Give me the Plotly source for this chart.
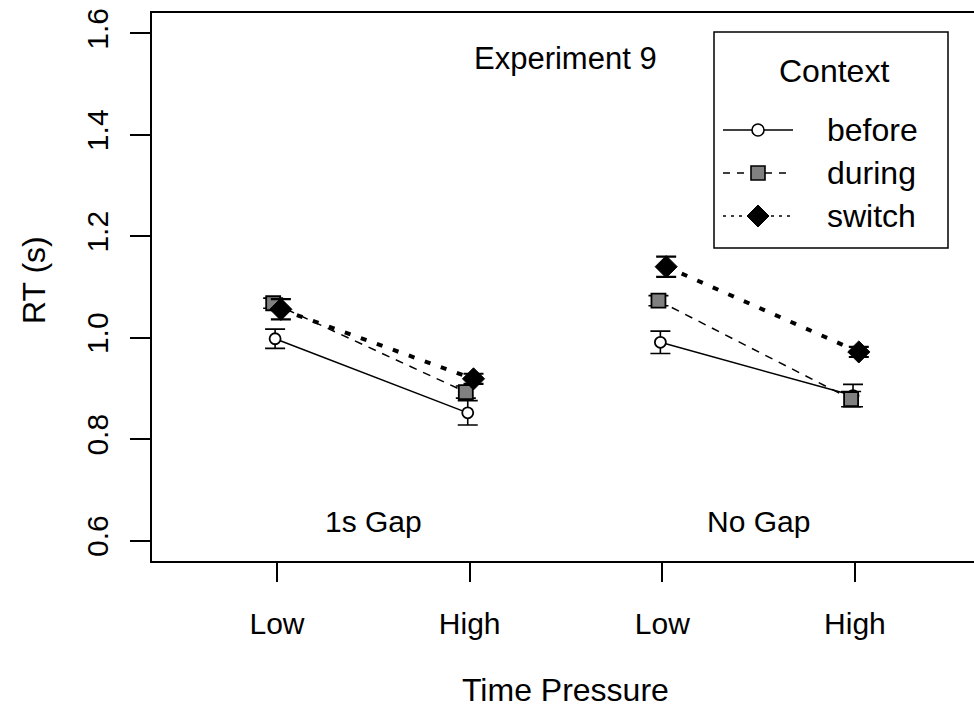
import plotly.graph_objects as go

# ---- data ----
conditions = ["1s Gap", "No Gap"]
pressure_labels = ["Low", "High", "Low", "High"]
x_pos = [1, 2, 3, 4]

before = [0.998, 0.852, 0.991, 0.886]
before_err = [0.019, 0.024, 0.022, 0.022]
during = [1.068, 0.893, 1.073, 0.879]
during_err = [0.010, 0.012, 0.010, 0.015]
switch = [1.056, 0.919, 1.140, 0.972]
switch_err = [0.020, 0.010, 0.020, 0.010]

y_ticks = [0.6, 0.8, 1.0, 1.2, 1.4, 1.6]

# ---- layout geometry ----
W, H = 974, 714
L, R, T, B = 152, 0, 13, 153
PW, PH = W - L - R, H - T - B
FONT = "Liberation Sans, Arial, Helvetica, sans-serif"


def px(xp):
    return (xp - L) / PW


def py(yp):
    return (H - B - yp) / PH


series = [
    dict(name="before", y=before, err=before_err, off=-0.01,
         line=dict(color="black", width=1.5),
         marker=dict(symbol="circle", size=11, color="white",
                     line=dict(color="black", width=1.8)),
         ethick=1.6),
    dict(name="during", y=during, err=during_err, off=-0.02,
         line=dict(color="black", width=1.5, dash="8px,7px"),
         marker=dict(symbol="square", size=14, color="#808080",
                     line=dict(color="black", width=1.8)),
         ethick=1.6),
    dict(name="switch", y=switch, err=switch_err, off=0.02,
         line=dict(color="black", width=4, dash="6px,11px"),
         marker=dict(symbol="diamond", size=17, color="black",
                     line=dict(color="black", width=1)),
         ethick=2.2),
]

fig = go.Figure()
for s in series:
    for g in range(len(conditions)):
        idx = [2 * g, 2 * g + 1]
        fig.add_trace(go.Scatter(
            x=[x_pos[i] + s["off"] for i in idx],
            y=[s["y"][i] for i in idx],
            mode="lines+markers",
            line=s["line"],
            marker=s["marker"],
            error_y=dict(type="data", array=[s["err"][i] for i in idx],
                         visible=True, color="black", thickness=s["ethick"],
                         width=10),
            showlegend=False,
            name=s["name"],
        ))

annotations = [
    dict(x=2.5, y=1.55, xref="x", yref="y", text="Experiment 9",
         showarrow=False, font=dict(family=FONT, size=31, color="black")),
    dict(x=1.5, y=0.637, xref="x", yref="y", text=conditions[0],
         showarrow=False, font=dict(family=FONT, size=30, color="black")),
    dict(x=3.5, y=0.637, xref="x", yref="y", text=conditions[1],
         showarrow=False, font=dict(family=FONT, size=30, color="black")),
    dict(x=px(565), y=py(690), xref="paper", yref="paper", text="Time Pressure",
         showarrow=False, xanchor="center", yanchor="middle",
         font=dict(family=FONT, size=32, color="black")),
    dict(x=px(34), y=py(280), xref="paper", yref="paper", text="RT (s)",
         showarrow=False, textangle=-90, xanchor="center", yanchor="middle",
         font=dict(family=FONT, size=32, color="black")),
]

# manual legend
shapes = [dict(type="rect", xref="paper", yref="paper",
               x0=px(714), x1=px(948), y0=py(248), y1=py(32),
               line=dict(color="black", width=1.5), fillcolor="white", layer="above")]
annotations.append(dict(x=px(834), y=py(71), xref="paper", yref="paper",
                        text="Context", showarrow=False, xanchor="center",
                        yanchor="middle",
                        font=dict(family=FONT, size=32, color="black")))
leg_y = [130, 173, 216]
leg_dash = ["solid", "7px,7px", "3px,5px"]
for k, s in enumerate(series):
    yy = leg_y[k]
    shapes.append(dict(type="line", xref="paper", yref="paper",
                       x0=px(723), x1=px(793), y0=py(yy), y1=py(yy),
                       line=dict(color="black", width=1.5, dash=leg_dash[k]),
                       layer="above"))
    annotations.append(dict(x=px(825), y=py(yy), xref="paper", yref="paper",
                            text=s["name"], showarrow=False, xanchor="left",
                            yanchor="middle",
                            font=dict(family=FONT, size=32, color="black")))
cx = 758
# circle
shapes.append(dict(type="circle", xref="paper", yref="paper",
                   x0=px(cx - 6), x1=px(cx + 6), y0=py(130 + 6), y1=py(130 - 6),
                   line=dict(color="black", width=1.6), fillcolor="white", layer="above"))
# square
shapes.append(dict(type="rect", xref="paper", yref="paper",
                   x0=px(cx - 7), x1=px(cx + 7), y0=py(173 + 7), y1=py(173 - 7),
                   line=dict(color="black", width=1.6), fillcolor="#808080", layer="above"))
# diamond
d = 11
path = "M {} {} L {} {} L {} {} L {} {} Z".format(
    px(cx), py(216 - d), px(cx + d), py(216), px(cx), py(216 + d), px(cx - d), py(216))
shapes.append(dict(type="path", xref="paper", yref="paper", path=path,
                   line=dict(color="black", width=1), fillcolor="black", layer="above"))

fig.update_layout(
    width=W, height=H,
    margin=dict(l=L, r=R, t=T, b=B, pad=0),
    paper_bgcolor="white", plot_bgcolor="white",
    font=dict(family=FONT, size=30, color="black"),
    annotations=annotations,
    shapes=shapes,
    showlegend=False,
)
fig.update_xaxes(
    range=[0.351, 4.618], tickvals=x_pos, ticktext=pressure_labels,
    showgrid=False, zeroline=False, showline=True, mirror=True,
    linecolor="black", linewidth=2, ticks="outside", ticklen=19,
    tickwidth=1.5, tickcolor="black", ticklabelstandoff=16,
    tickfont=dict(family=FONT, size=30, color="black"),
)
fig.update_yaxes(
    range=[0.56, 1.64], tickvals=y_ticks, ticktext=["%.1f" % v for v in y_ticks],
    showgrid=False, zeroline=False, showline=True, mirror=False,
    linecolor="black", linewidth=2, ticks="outside", ticklen=20,
    tickwidth=1.5, tickcolor="black", tickangle=-90, ticklabelstandoff=10,
    tickfont=dict(family=FONT, size=30, color="black"),
)

fig.write_html("out.html")
